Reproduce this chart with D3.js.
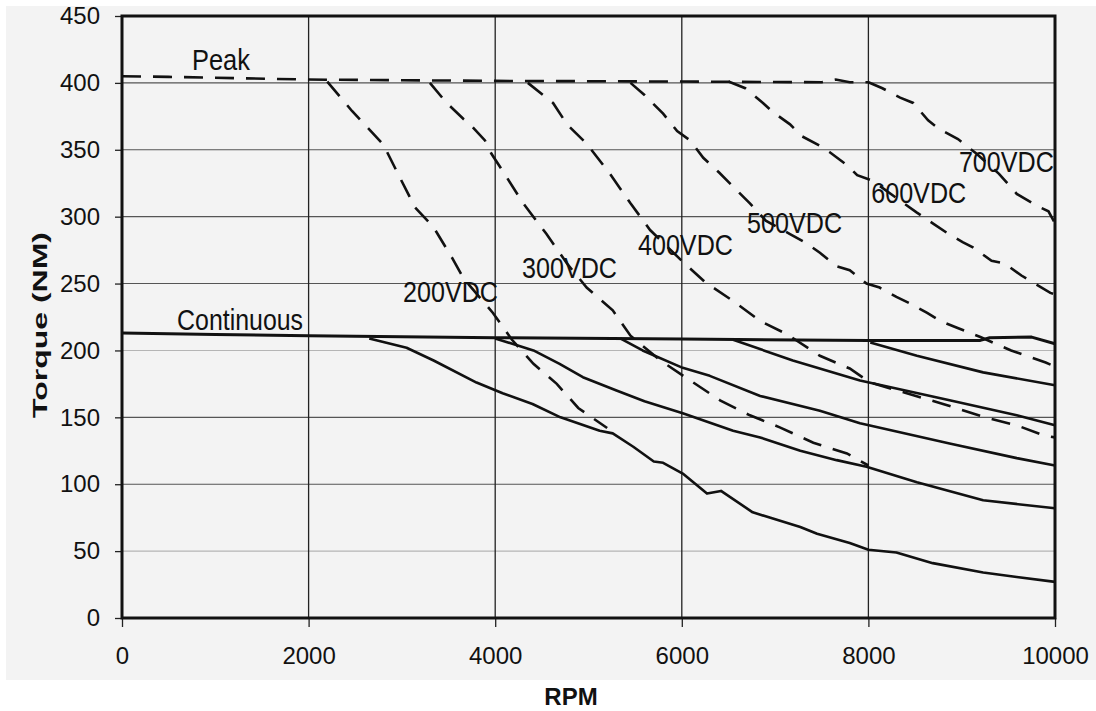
<!DOCTYPE html>
<html>
<head>
<meta charset="utf-8">
<script src="https://cdn.jsdelivr.net/npm/d3@7"></script>
<style>
  body { margin: 0; background: #fff; }
  svg { display: block; font-family: "Liberation Sans", Arial, sans-serif; }
</style>
</head>
<body>
<svg id="chart" width="1096" height="711"></svg>
<script>
// axis ticks
const xTicks = [0, 2000, 4000, 6000, 8000, 10000];
const yTicks = [0, 50, 100, 150, 200, 250, 300, 350, 400, 450];

// peak torque curves (dashed), [rpm, torque]
const peakEnvelope = [[0,405],[500,404.5],[2000,402.5],[4000,401.5],[6000,401],[7500,400.5],[7650,402.5],[7800,400.5],[8000,400.5]];
const peak200 = [[2200,401],[2465,379],[2800,354],[2980,329],[3140,307],[3340,292],[3540,269],[3660,254],[3976,228],[4180,208],[4410,190],[4660,175],[4890,157],[5200,142]];
const peak300 = [[3300,400],[3480,385],[3660,373],[3730,369],[3890,357],[3960,347],[4100,332],[4300,310],[4550,287],[4770,265],[4980,247],[5260,230],[5450,211],[5770,192.5],[6090,177.6],[6410,162.7],[6730,151.5],[7050,142.5],[7410,131],[7770,123],[8000,114]];
const peak400 = [[4350,400],[4620,385],[4770,369],[4980,354.5],[5230,332],[5450,310],[5660,290],[6000,267],[6250,251],[6550,237],[6840,222],[7130,212],[7480,196],[7800,186.5],[8020,176],[8800,160],[9250,150],[9590,144],[9900,136],[10000,135]];
const peak500 = [[5450,400],[5600,391],[5800,377],[5950,364],[6090,357],[6230,344],[6400,333],[6600,319],[6730,310],[6900,297],[7160,287],[7340,280],[7480,273],[7660,263],[7800,260],[7980,250],[8120,247],[8300,240],[8450,235],[8630,228],[8770,222],[8950,217],[9200,210],[9530,200],[9900,191],[10000,188]];
const peak600 = [[6500,401],[6680,396],[6870,385],[6980,378],[7160,369],[7290,360],[7480,353],[7590,348],[7780,338],[7880,331],[8040,327],[8300,314],[8520,303],[8690,295],[8840,288],[9010,281],[9120,277],[9320,267],[9460,265],[9640,256],[9760,251],[9950,243],[10000,242]];
const peak700 = [[8000,400.5],[8150,396],[8340,389],[8480,385],[8640,372],[8750,366],[8960,358],[9160,347],[9400,332],[9590,317],[9810,308],[9930,304],[10000,295]];

// continuous torque curves (solid)
const cont700 = [[0,213],[1000,212],[2000,211],[4000,209.5],[6000,208.5],[8000,207.5],[9200,207.5],[9300,209.5],[9750,210],[10000,205]];
const cont200 = [[2650,209],[3050,202],[3340,192.5],[3800,176],[4080,168],[4400,160],[4700,150],[5120,140],[5260,138],[5480,128],[5700,117],[5800,116],[6010,108],[6270,93],[6420,95],[6760,79],[7270,68],[7450,63],[7800,56],[8000,51],[8300,49],[8690,41],[9230,34],[9590,30.6],[10000,27]];
const cont300 = [[4000,209],[4410,200],[4690,190],[4940,180],[5300,170],[5600,162],[6010,153],[6550,140],[6840,135],[7270,125],[7660,118],[7980,113],[8520,101.5],[9230,88],[10000,82]];
const cont400 = [[5340,209],[5580,200],[6010,187],[6300,181],[6840,166],[7480,155],[7910,145.5],[8870,130.5],[9590,119.5],[10000,114]];
const cont500 = [[6550,208],[7190,192.5],[7910,177.6],[8870,162.7],[9590,151.5],[10000,144]];
const cont600 = [[8020,206],[8520,196],[9230,183.6],[10000,174]];

// curve labels: text, rpm, torque at baseline start, drawn width
const labelText = ["Peak", "Continuous", "200VDC", "300VDC", "400VDC", "500VDC", "600VDC", "700VDC"];
const labelRpm = [750, 590, 3012, 4287, 5530, 6700, 8030, 8970];
const labelTorque = [410, 215, 236, 254.5, 271, 288, 310.5, 333.6];

const width = 1096, height = 711;
const margin = {top: 16, right: 41, bottom: 93, left: 122};

const svg = d3.select("#chart");

const x = d3.scaleLinear().domain([0, 10000]).range([margin.left, width - margin.right]);
const y = d3.scaleLinear().domain([0, 450]).range([height - margin.bottom, margin.top]);

// scanned-paper background
svg.append("rect")
    .attr("x", 6).attr("y", 6)
    .attr("width", width - 6).attr("height", 674)
    .attr("fill", "#f3f3f3");

// gridlines
svg.append("g")
    .selectAll("line")
    .data(yTicks.filter(d => d > 0 && d < 450))
    .join("line")
    .attr("x1", x(0)).attr("x2", x(10000))
    .attr("y1", d => y(d)).attr("y2", d => y(d))
    .attr("stroke", d => (d === 200 || d === 50) ? "#b5b5b5" : "#555")
    .attr("stroke-width", 1.1);

svg.append("g")
    .selectAll("line")
    .data(xTicks.filter(d => d > 0 && d < 10000))
    .join("line")
    .attr("x1", d => x(d)).attr("x2", d => x(d))
    .attr("y1", y(450)).attr("y2", y(0))
    .attr("stroke", "#222")
    .attr("stroke-width", 1.3);

// axes
const yAxis = svg.append("g")
    .attr("transform", `translate(${x(0)},0)`)
    .call(d3.axisLeft(y).tickValues(yTicks).tickSize(7).tickPadding(15));
const xAxis = svg.append("g")
    .attr("transform", `translate(0,${y(0)})`)
    .call(d3.axisBottom(x).tickValues(xTicks).tickSize(9).tickPadding(20).tickFormat(d3.format("d")));

[yAxis, xAxis].forEach(g => {
    g.select(".domain").remove();
    g.selectAll(".tick line").attr("stroke", "#222").attr("stroke-width", 1.3);
    g.selectAll("text")
        .attr("fill", "#111")
        .attr("font-size", 24)
        .attr("font-family", "'Liberation Sans', Arial, sans-serif");
});

const line = d3.line()
    .x(d => x(d[0]))
    .y(d => y(d[1]));

// dashed peak curves
const peaks = [peakEnvelope, peak200, peak300, peak400, peak500, peak600, peak700];
svg.append("g")
    .selectAll("path")
    .data(peaks)
    .join("path")
    .attr("d", line)
    .attr("fill", "none")
    .attr("stroke", "#111")
    .attr("stroke-width", 2.6)
    .attr("stroke-dasharray", "19,12");

// solid continuous curves
const conts = [cont700, cont200, cont300, cont400, cont500, cont600];
svg.append("g")
    .selectAll("path")
    .data(conts)
    .join("path")
    .attr("d", line)
    .attr("fill", "none")
    .attr("stroke", "#111")
    .attr("stroke-width", (d, i) => i === 0 ? 3 : 2.6)
    .attr("stroke-linejoin", "round");

// plot frame
svg.append("rect")
    .attr("x", x(0)).attr("y", y(450))
    .attr("width", x(10000) - x(0))
    .attr("height", y(0) - y(450))
    .attr("fill", "none")
    .attr("stroke", "#111")
    .attr("stroke-width", 3);

// curve labels
svg.append("g")
    .selectAll("text")
    .data(labelText)
    .join("text")
    .attr("x", (d, i) => x(labelRpm[i]))
    .attr("y", (d, i) => y(labelTorque[i]))
    .attr("font-size", 29)
    .attr("fill", "#111")
    .attr("textLength", d => d === "Peak" ? 58 : d === "Continuous" ? 126 : 95)
    .attr("lengthAdjust", "spacingAndGlyphs")
    .text(d => d);

// axis titles
svg.append("text")
    .attr("transform", `translate(47,${(y(0) + y(450)) / 2 + 8}) rotate(-90)`)
    .attr("text-anchor", "middle")
    .attr("font-size", 21)
    .attr("font-weight", "bold")
    .attr("fill", "#111")
    .attr("textLength", 186)
    .attr("lengthAdjust", "spacingAndGlyphs")
    .text("Torque (NM)");

svg.append("text")
    .attr("x", 571)
    .attr("y", 705)
    .attr("text-anchor", "middle")
    .attr("font-size", 24)
    .attr("font-weight", "bold")
    .attr("fill", "#111")
    .text("RPM");
</script>
</body>
</html>
